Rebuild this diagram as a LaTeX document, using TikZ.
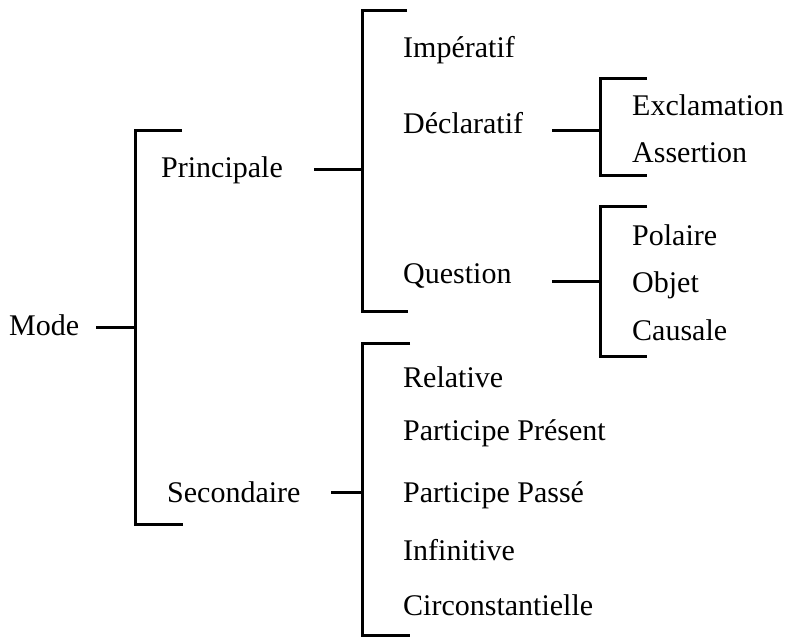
\documentclass[tikz,border=0pt]{standalone}
\usepackage{fontspec}
\setmainfont{Liberation Serif}
\begin{document}
\begin{tikzpicture}[x=1pt,y=-1pt,
  lbl/.style={anchor=base west,inner sep=0pt,font=\fontsize{30}{36}\selectfont},
  conn/.style={line width=3pt,line cap=rect},
  brk/.style={line width=3pt,line join=miter}]
\useasboundingbox[fill=white] (0,0) rectangle (786,637);
% labels
\node[lbl] (mode) at (9,335) {Mode};
\node[lbl] (princ) at (161,177) {Principale};
\node[lbl] (second) at (167,502) {Secondaire};
\node[lbl] (imper) at (403,57) {Impératif};
\node[lbl] (decl) at (403,133) {Déclaratif};
\node[lbl] (quest) at (403,283) {Question};
\node[lbl] (excl) at (632,115) {Exclamation};
\node[lbl] (asser) at (632,162) {Assertion};
\node[lbl] (pol) at (632,245) {Polaire};
\node[lbl] (obj) at (632,292) {Objet};
\node[lbl] (caus) at (632,340) {Causale};
\node[lbl] (rel) at (403,387) {Relative};
\node[lbl] (ppres) at (403,440) {Participe Présent};
\node[lbl] (ppass) at (403,502) {Participe Passé};
\node[lbl] (inf) at (403,560) {Infinitive};
\node[lbl] (circ) at (403,615) {Circonstantielle};
% connector end points
\coordinate (modeR) at (97,327);
\coordinate (b1T) at (182,130); \coordinate (b1TL) at (135,130);
\coordinate (b1M) at (135,327);
\coordinate (b1BL) at (135,524); \coordinate (b1B) at (183,524);
\coordinate (princR) at (315,169);
\coordinate (b2T) at (407,10); \coordinate (b2TL) at (362,10);
\coordinate (b2M) at (362,169);
\coordinate (b2BL) at (362,311); \coordinate (b2B) at (408,311);
\coordinate (secR) at (332,492);
\coordinate (b3T) at (410,343); \coordinate (b3TL) at (362,343);
\coordinate (b3M) at (362,492);
\coordinate (b3BL) at (362,635); \coordinate (b3B) at (410,635);
\coordinate (declR) at (553,130);
\coordinate (b4T) at (647,78); \coordinate (b4TL) at (600,78);
\coordinate (b4M) at (600,130);
\coordinate (b4BL) at (600,175); \coordinate (b4B) at (647,175);
\coordinate (questR) at (553,281);
\coordinate (b5T) at (647,206); \coordinate (b5TL) at (600,206);
\coordinate (b5M) at (600,281);
\coordinate (b5BL) at (600,356); \coordinate (b5B) at (647,356);
% connectors
\draw[conn] (modeR) -- (b1M);
\draw[brk] (b1T) -- (b1TL) -- (b1BL) -- (b1B);
\draw[conn] (princR) -- (b2M);
\draw[brk] (b2T) -- (b2TL) -- (b2BL) -- (b2B);
\draw[conn] (secR) -- (b3M);
\draw[brk] (b3T) -- (b3TL) -- (b3BL) -- (b3B);
\draw[conn] (declR) -- (b4M);
\draw[brk] (b4T) -- (b4TL) -- (b4BL) -- (b4B);
\draw[conn] (questR) -- (b5M);
\draw[brk] (b5T) -- (b5TL) -- (b5BL) -- (b5B);
\end{tikzpicture}
\end{document}
